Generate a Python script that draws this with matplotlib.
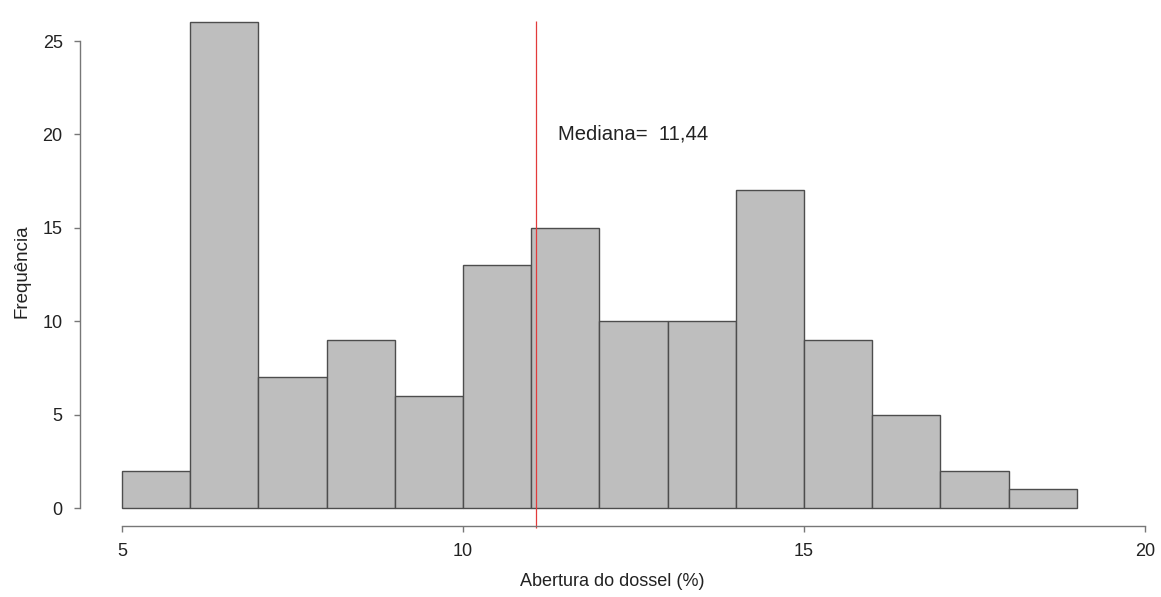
import numpy as np
import matplotlib.pyplot as plt

plt.rcParams['font.family'] = ['Liberation Sans', 'DejaVu Sans']

bin_edges = np.arange(5, 20, 1)
counts = [2, 26, 7, 9, 6, 13, 15, 10, 10, 17, 9, 5, 2, 1]
median_line = 11.07
median_text = "Mediana=  11,44"

fig = plt.figure(figsize=(11.61, 5.97), dpi=100)
ax = fig.add_axes([0.0689, 0.1189, 0.9173, 0.853])

ax.bar(bin_edges[:-1], counts, width=1, align='edge', color='#bebebe',
       edgecolor='#4d4d4d', linewidth=1.0)

ax.vlines(median_line, -1.05, 26.1, color='#e23b3b', linewidth=0.9, clip_on=False)
ax.text(11.39, 20, median_text, ha='left', va='center', fontsize=14.6, color='#222222')

ax.set_xlim(4.384, 20)
ax.set_ylim(-0.964, 26.3)

for s in ['top', 'right']:
    ax.spines[s].set_visible(False)
ax.spines['left'].set_bounds(0, 25)
ax.spines['bottom'].set_bounds(5, 20)
for s in ['left', 'bottom']:
    ax.spines[s].set_color('#777777')
    ax.spines[s].set_linewidth(1.0)

ax.set_xticks([5, 10, 15, 20])
ax.set_yticks([0, 5, 10, 15, 20, 25])
ax.tick_params(axis='both', length=4.5, width=1.0, color='#777777',
               labelsize=13, labelcolor='#222222', pad=8)

ax.set_xlabel("Abertura do dossel (%)", fontsize=13, color='#222222', labelpad=9)
ax.set_ylabel("Frequência", fontsize=13.5, color='#222222', labelpad=9)

fig.savefig("out.png", dpi=100)
